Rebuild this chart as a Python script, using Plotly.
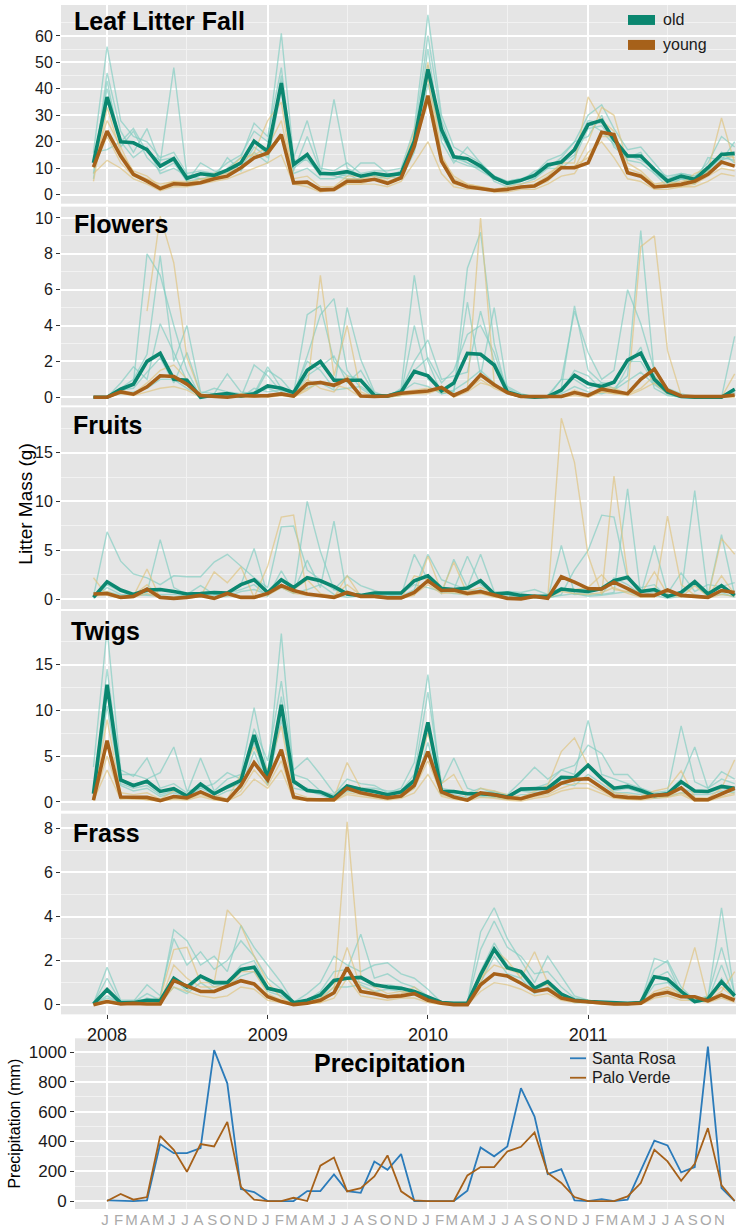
import plotly.graph_objects as go
import pandas as pd

W, H = 736, 1228

# ---------------- data ----------------
months = pd.date_range("2007-12-01", periods=49, freq="MS")
precip_months = pd.date_range("2008-01-01", periods=48, freq="MS")
month_letters = ["J", "F", "M", "A", "M", "J", "J", "A", "S", "O", "N", "D"] * 4
year_ticks = ["2008-01-01", "2009-01-01", "2010-01-01", "2011-01-01"]
year_labels = ["2008", "2009", "2010", "2011"]
mid_year = ["2008-07-01", "2009-07-01", "2010-07-01", "2011-07-01"]

panel_titles = ["Leaf Litter Fall", "Flowers", "Fruits", "Twigs", "Frass"]

# Leaf litter fall
leaf_old_mean = [12, 36.9, 20, 19.6, 17, 10.8, 13.6, 6.2, 7.9, 7.3, 9.3, 12, 20.2, 16.4, 42.2, 11.4, 15.2, 8, 7.9, 8.7, 7,
                 8, 7.3, 8, 20.2, 47.4, 24.6, 14.3, 13.6, 10.8, 6.4, 4.3, 5.4, 7.3, 11.2, 12.3, 17, 26.5, 28.1, 20.8, 14.6,
                 14.6, 9.5, 5.1, 7, 5.8, 10.2, 15.2, 15.6]
leaf_young_mean = [10.4, 24, 14.6, 7.7, 5.1, 2.3, 4.1, 3.9, 4.5, 6, 7, 10.2, 13.9, 15.8, 22.7, 4.5, 4.8, 1.8, 2, 5.1, 5.1,
                   5.8, 4.3, 6.4, 18.3, 37.4, 12.7, 4.9, 3, 2.3, 1.6, 2, 2.9, 3.3, 6, 10.2, 10.2, 12, 23.6, 22.7, 8.3, 7,
                   2.9, 3.3, 3.9, 5.1, 7.7, 12.3, 10.8]
leaf_old_sites = [
    [16, 56, 28, 22, 20, 14, 16, 8, 9, 8, 12, 15, 24, 20, 61, 14, 28, 10, 9, 12, 8, 9, 9, 10, 25, 68, 30, 18, 15, 12, 7, 5, 6, 8, 13, 15, 20, 30, 34, 25, 17, 18, 12, 6, 8, 7, 12, 22, 18],
    [8, 46, 24, 16, 25, 12, 48, 7, 8, 6, 10, 14, 27, 22, 48, 10, 14, 7, 36, 10, 7, 7, 6, 9, 22, 60, 28, 15, 12, 10, 6, 4, 5, 7, 12, 11, 18, 28, 27, 22, 15, 13, 10, 4, 6, 5, 9, 14, 13],
    [6, 43, 18, 24, 14, 9, 12, 5, 12, 9, 8, 10, 18, 14, 45, 9, 22, 9, 8, 7, 12, 12, 8, 7, 18, 55, 20, 12, 18, 12, 5, 3, 5, 9, 10, 14, 20, 22, 30, 18, 14, 16, 8, 3, 6, 4, 14, 13, 20],
    [16, 17, 20, 25, 16, 13, 14, 5, 6, 6, 14, 9, 16, 12, 40, 8, 10, 6, 6, 8, 5, 6, 7, 6, 16, 42, 22, 14, 12, 9, 6, 4, 4, 6, 10, 10, 14, 25, 26, 20, 13, 12, 8, 5, 7, 6, 9, 16, 12],
    [12, 40, 20, 14, 18, 8, 10, 7, 6, 7, 7, 12, 20, 15, 43, 13, 13, 8, 7, 6, 6, 8, 7, 9, 20, 49, 24, 13, 11, 10, 7, 5, 6, 6, 11, 12, 15, 27, 24, 19, 14, 14, 9, 7, 8, 7, 8, 13, 15],
]
leaf_young_sites = [
    [5, 33, 16, 9, 7, 3, 5, 5, 5, 7, 8, 12, 16, 28, 35, 5, 5, 2, 2, 6, 6, 7, 5, 7, 20, 50, 15, 6, 4, 3, 2, 2, 3, 4, 7, 12, 12, 37, 28, 24, 10, 8, 4, 4, 5, 6, 9, 29, 12],
    [8, 13, 10, 6, 4, 1.5, 3, 3, 4, 5, 6, 8, 10, 12, 15, 4, 4, 1.5, 1.5, 4, 4, 4, 3, 5, 12, 20, 8, 3, 2, 2, 1, 1, 2, 2, 4, 7, 8, 16, 20, 14, 6, 5, 2, 2, 3, 3, 5, 8, 7],
    [12, 28, 18, 8, 6, 4, 5, 4, 5, 8, 9, 14, 15, 18, 28, 6, 7, 3, 3, 7, 7, 8, 6, 8, 24, 44, 14, 7, 4, 3, 2, 3, 4, 5, 8, 11, 10, 20, 33, 30, 12, 9, 4, 5, 4, 8, 10, 15, 14],
    [10, 22, 12, 7, 5, 2, 4, 4, 6, 6, 7, 10, 14, 15, 22, 4, 3, 1, 2, 4, 4, 6, 4, 6, 18, 35, 12, 4, 3, 2, 1.5, 2, 3, 3, 5, 10, 11, 14, 22, 22, 8, 7, 3, 3, 3, 4, 7, 10, 9],
]

# Flowers
flow_old_mean = [0, 0, 0.45, 0.73, 2, 2.45, 1, 0.95, 0, 0.13, 0.2, 0.07, 0.2, 0.63, 0.5, 0.26, 1.5, 2, 0.95, 0.95, 0.95,
                 0.1, 0.07, 0.3, 1.44, 1.2, 0.35, 0.8, 2.45, 2.4, 1.8, 0.3, 0.07, 0, 0.04, 0.4, 1.23, 0.76, 0.6, 0.84,
                 2.07, 2.46, 1, 0.3, 0.04, 0, 0, 0, 0.45]
flow_young_mean = [0, 0, 0.3, 0.17, 0.58, 1.2, 1.16, 0.73, 0.1, 0.04, 0, 0.1, 0.07, 0.09, 0.19, 0.07, 0.76, 0.82, 0.67, 1,
                   0.07, 0.04, 0.07, 0.22, 0.3, 0.35, 0.55, 0.1, 0.45, 1.25, 0.7, 0.26, 0.04, 0.04, 0.02, 0.04, 0.26, 0.1,
                   0.45, 0.35, 0.2, 1, 1.57, 0.4, 0.07, 0.04, 0.04, 0.04, 0.13]
flow_old_sites = [
    [0, 0, 0.3, 0.8, 8.0, 6.8, 4.0, 1.5, 0, 0.1, 0.2, 0, 0.1, 1.5, 1.0, 0.2, 4.6, 5.1, 2.0, 1.2, 1.0, 0.1, 0, 0.5, 6.8, 2.0, 0.2, 0.3, 7.2, 9.2, 3.0, 0.2, 0, 0, 0, 0.5, 5.1, 1.5, 0.8, 0.5, 1.2, 9.3, 1.2, 0.2, 0, 0, 0, 0, 0.5],
    [0, 0, 0.5, 1.0, 2.4, 7.9, 2.0, 4.0, 0.3, 0.2, 1.3, 0.3, 0.2, 1.7, 0.5, 0.1, 2.3, 4.6, 5.5, 1.5, 0.5, 0, 0.1, 0.2, 4.0, 1.0, 0.5, 0.3, 5.3, 1.2, 5.0, 0.5, 0.1, 0, 0.1, 1.0, 4.8, 2.5, 1.0, 1.5, 6.0, 4.1, 1.5, 0.5, 0.2, 0, 0, 0, 3.4],
    [0, 0, 0.8, 1.7, 1.0, 4.1, 2.5, 0.9, 0, 0, 0, 0, 1.8, 1.2, 0.3, 0.3, 2.0, 1.5, 0.5, 5.0, 2.1, 0.3, 0, 0.1, 1.5, 2.2, 0.8, 1.5, 3.5, 4.0, 2.5, 0.3, 0, 0, 0, 1.0, 1.0, 0.5, 0.8, 0.8, 2.0, 2.0, 0.8, 0.2, 0, 0, 0, 0, 0.3],
    [0, 0, 0.4, 0.5, 1.4, 2.2, 0.8, 2.5, 0.2, 0.5, 0.3, 0.2, 0.3, 0.5, 0.2, 0.1, 1.2, 1.7, 2.3, 0.8, 1.5, 0.2, 0.1, 0.4, 2.0, 3.2, 1.0, 1.2, 1.4, 4.8, 2.0, 0.6, 0.2, 0, 0, 0.3, 1.5, 1.2, 0.4, 0.3, 1.7, 2.8, 0.5, 0.1, 0, 0, 0, 0, 0.2],
    [0, 0, 0.2, 0.3, 0.5, 1.0, 1.0, 0.5, 0.1, 0.1, 0, 0, 0.5, 0.3, 0.4, 0.3, 0.5, 0.8, 0.4, 0.5, 0.6, 0.1, 0, 0.3, 0.8, 0.6, 0.2, 0.4, 0.9, 1.5, 0.8, 0.2, 0, 0, 0, 0.2, 0.6, 0.3, 0.2, 0.4, 0.9, 1.4, 0.7, 0.2, 0, 0, 0, 0, 0.1],
]
flow_young_sites = [
    [None, None, None, None, 4.8, 10.1, 7.5, 2.2, 0.2, 0, 0, 0.1, 0, 0.1, 0.1, 0, 0.5, 6.8, 1.2, 4.0, 0.3, 0, 0.1, 0.2, 0.2, 0.3, 0.6, 0.1, 0.5, 10.0, 0.8, 0.2, 0, 0, 0, 0, 0.2, 0.1, 0.3, 0.2, 0.2, 8.4, 9.0, 2.6, 0.1, 0, 0, 0, 1.3],
    [0, 0, 0.4, 0.2, 0.8, 1.5, 1.8, 1.0, 0, 0, 0, 0.2, 0.1, 0, 0.1, 0.1, 1.0, 0.5, 0.3, 1.2, 0.1, 0, 0.1, 0.3, 0.4, 0.5, 0.3, 0.2, 0.4, 1.0, 0.5, 0.2, 0, 0, 0, 0, 0.4, 0.1, 0.6, 0.5, 0.2, 0.5, 1.2, 0.3, 0.1, 0, 0, 0, 0.1],
    [0, 0, 0.2, 0.1, 0.3, 0.5, 0.6, 0.4, 0, 0, 0, 0, 0, 0.1, 0.2, 0, 0.4, 0.9, 0.7, 0.5, 0, 0, 0, 0.1, 0.2, 0.2, 0.5, 0, 0.3, 0.8, 0.6, 0.3, 0, 0, 0, 0, 0.1, 0, 0.3, 0.2, 0.1, 0.4, 0.8, 0.2, 0, 0, 0, 0, 0],
]

# Fruits
fruit_old_mean = [0.2, 1.8, 0.95, 0.5, 0.95, 1, 0.8, 0.55, 0.6, 0.7, 0.65, 1.5, 2, 0.7, 2, 1.2, 2.2, 1.9, 1.3, 0.55, 0.4,
                  0.65, 0.65, 0.65, 1.9, 2.4, 1.1, 1.0, 1.15, 1.9, 0.55, 0.65, 0.4, 0.3, 0.3, 1.05, 0.9, 0.8, 1.1, 1.9,
                  2.25, 0.8, 1.0, 0.3, 0.7, 1.8, 0.55, 1.4, 0.4]
fruit_young_mean = [0.55, 0.6, 0.2, 0.3, 1.05, 0.2, 0.1, 0.2, 0.4, 0.1, 0.6, 0.2, 0.2, 0.6, 1.4, 0.9, 0.55, 0.4, 0.2, 0.7,
                    0.3, 0.3, 0.15, 0.15, 0.7, 1.9, 0.9, 0.95, 0.6, 0.8, 0.4, 0.1, 0.05, 0.3, 0.1, 2.3, 1.75, 1.1, 1.05,
                    1.75, 1.1, 0.4, 0.4, 0.95, 0.4, 0.3, 0.2, 0.9, 0.7]
fruit_old_sites = [
    [0.3, 6.9, 3.9, 2.6, 2.2, 1.5, 2.4, 2.3, 2.3, 3.8, 4.6, 3.4, 2.2, 1.2, 7.4, 7.5, 3.0, 2.0, 1.0, 0.5, 0.3, 0.2, 0.4, 0.3, 1.0, 4.6, 2.0, 1.5, 1.0, 0.8, 0.4, 0.3, 0.5, 0.2, 0.1, 0.5, 3.0, 5.0, 8.6, 8.4, 2.0, 1.2, 1.5, 0.2, 0.5, 1.5, 0.3, 0.5, 0.3],
    [0.1, 1.5, 0.8, 0.4, 0.7, 6.1, 1.2, 0.5, 1.4, 0.5, 0.4, 1.5, 5.2, 0.4, 1.5, 0.7, 10.0, 4.9, 1.0, 2.4, 1.4, 0.9, 0.5, 0.4, 4.6, 2.0, 0.6, 4.1, 1.2, 4.6, 0.8, 0.7, 0.2, 0.4, 0.1, 5.5, 0.6, 0.4, 0.5, 0.7, 11.3, 0.4, 0.8, 0.2, 0.6, 11.1, 0.3, 6.6, 0.4],
    [0.2, 1.2, 0.5, 0.3, 0.5, 0.5, 0.5, 0.3, 0.2, 0.4, 0.6, 1.0, 1.5, 0.3, 2.9, 0.8, 4.0, 1.2, 8.0, 0.4, 0.3, 0.4, 0.6, 0.5, 2.0, 2.5, 1.3, 1.0, 4.4, 1.5, 0.5, 0.8, 0.7, 1.0, 0.5, 1.2, 0.5, 0.6, 0.5, 2.2, 1.5, 0.5, 5.5, 0.6, 2.7, 0.8, 1.5, 1.3, 1.7],
    [0.5, 0.8, 0.4, 0.6, 0.4, 0.3, 0.2, 0.4, 0.4, 0.2, 0.3, 0.8, 1.0, 0.5, 1.2, 0.6, 1.0, 1.5, 0.5, 0.2, 0.4, 0.6, 0.3, 0.6, 1.5, 1.2, 0.8, 0.6, 0.5, 1.0, 0.3, 0.4, 0.2, 0.3, 0.2, 0.4, 0.6, 0.3, 0.4, 0.6, 0.8, 0.3, 0.4, 0.1, 0.3, 0.5, 0.2, 0.7, 0.2],
]
fruit_young_sites = [
    [2.2, 0.4, 0.1, 0.3, 3.1, 0.1, 0.1, 0.2, 0.3, 2.8, 1.7, 3.3, 0.2, 3.4, 8.4, 8.6, 0.5, 0.3, 0.2, 2.4, 0.3, 0.2, 0.1, 0.1, 0.4, 4.4, 0.8, 3.8, 0.5, 0.6, 0.2, 0.1, 0.1, 0.2, 0.1, 18.5, 14.0, 4.5, 0.5, 12.6, 2.5, 0.3, 0.2, 8.5, 1.5, 0.4, 0.2, 6.2, 4.6],
    [0.5, 0.8, 0.2, 0.4, 1.5, 0.3, 0.1, 0.4, 0.5, 0.2, 0.6, 0.3, 0.3, 0.5, 2.0, 1.0, 2.0, 0.6, 0.3, 1.5, 0.4, 0.4, 0.2, 0.1, 2.4, 2.0, 1.2, 1.0, 0.8, 1.2, 0.6, 0.1, 0.1, 0.4, 0.1, 1.0, 1.0, 1.2, 2.5, 1.0, 0.8, 0.5, 2.8, 0.5, 0.2, 1.4, 0.3, 2.4, 0.5],
    [0.3, 0.5, 0.1, 0.2, 0.6, 0.1, 0.1, 0.1, 0.3, 0.1, 0.4, 0.1, 0.1, 0.4, 1.2, 0.6, 0.4, 0.3, 0.1, 0.6, 0.2, 0.2, 0.1, 0.1, 0.5, 1.5, 0.6, 0.7, 0.4, 0.6, 0.3, 0.1, 0, 0.2, 0.1, 0.8, 0.6, 0.5, 0.7, 1.2, 0.6, 0.2, 0.3, 0.8, 0.3, 0.2, 0.1, 0.5, 0.3],
]

# Twigs
twig_old_mean = [0.9, 12.8, 2.4, 1.8, 2.25, 1.15, 1.45, 0.65, 1.95, 0.9, 1.65, 2.35, 7.3, 2.55, 10.6, 2.25, 1.25, 1.1,
                 0.45, 1.75, 1.4, 1.15, 0.8, 1.1, 2.35, 8.7, 1.15, 1.15, 0.9, 0.9, 0.8, 0.55, 1.4, 1.45, 1.5, 2.7, 2.65,
                 4, 2.55, 1.5, 1.7, 1.25, 0.7, 0.9, 2.2, 1.2, 1.15, 1.7, 1.5]
twig_young_mean = [0.2, 6.7, 0.55, 0.5, 0.5, 0.15, 0.6, 0.45, 1.1, 0.45, 0.15, 1.8, 4.3, 2.4, 5.7, 0.55, 0.25, 0.25, 0.25,
                   1.5, 1.0, 0.7, 0.45, 0.65, 1.8, 5.5, 1.1, 0.55, 0.2, 1.0, 0.8, 0.5, 0.35, 0.8, 1.15, 2.05, 2.45, 2.55,
                   1.5, 0.65, 0.5, 0.45, 0.7, 0.8, 1.55, 0.25, 0.25, 0.9, 1.5]
twig_old_sites = [
    [3.8, 18.9, 3.5, 2.8, 4.8, 1.5, 2.0, 1.0, 4.8, 1.2, 2.5, 3.0, 10.3, 3.0, 18.4, 3.0, 2.5, 1.2, 0.8, 2.5, 2.0, 1.8, 1.0, 1.5, 4.3, 13.9, 1.5, 1.2, 1.0, 1.5, 1.0, 0.8, 2.2, 3.8, 2.5, 3.5, 3.0, 8.9, 3.0, 2.5, 2.0, 1.5, 1.0, 1.2, 8.3, 2.2, 1.5, 2.5, 2.0],
    [1.0, 14.5, 3.0, 3.0, 2.5, 3.2, 6.0, 1.2, 1.5, 2.0, 3.2, 2.5, 8.0, 4.5, 13.2, 3.5, 4.8, 3.0, 1.0, 1.8, 1.5, 1.5, 1.2, 1.2, 3.0, 12.0, 2.0, 4.8, 1.5, 1.0, 1.2, 0.6, 1.5, 1.5, 2.0, 3.5, 4.0, 6.2, 5.3, 3.0, 3.0, 1.5, 0.8, 1.0, 2.5, 6.0, 1.5, 3.3, 2.5],
    [0.5, 12.0, 2.0, 1.5, 1.8, 0.8, 1.2, 0.5, 1.5, 0.8, 1.5, 2.0, 6.5, 2.0, 11.5, 2.0, 1.5, 1.0, 0.3, 1.5, 1.2, 1.2, 0.8, 1.0, 2.0, 8.0, 1.0, 1.0, 0.8, 0.8, 0.6, 0.4, 1.2, 1.0, 1.2, 2.5, 2.2, 4.0, 2.5, 1.2, 1.5, 1.0, 0.6, 0.8, 1.5, 1.0, 1.0, 1.5, 1.2],
    [0.3, 10.5, 1.8, 1.2, 1.5, 0.6, 1.0, 0.4, 1.2, 0.5, 1.2, 1.5, 5.5, 1.8, 9.0, 1.5, 1.2, 0.8, 0.2, 1.2, 1.0, 1.0, 0.6, 0.8, 1.5, 6.5, 0.8, 0.8, 0.5, 0.6, 0.5, 0.3, 0.8, 0.8, 1.0, 2.0, 1.8, 3.0, 2.0, 1.0, 1.0, 0.8, 0.4, 0.6, 1.0, 0.8, 0.8, 1.2, 1.0],
]
twig_young_sites = [
    [0.3, 9.0, 1.0, 0.8, 1.0, 0.3, 1.2, 0.8, 2.0, 0.8, 0.3, 3.0, 6.0, 3.5, 8.3, 1.0, 0.5, 0.3, 0.5, 4.3, 1.5, 1.2, 0.8, 1.0, 2.5, 7.5, 2.0, 3.0, 0.3, 1.5, 1.2, 0.8, 0.5, 1.2, 1.8, 5.5, 7.0, 4.0, 2.5, 1.0, 0.8, 0.6, 1.2, 1.5, 3.4, 0.5, 0.4, 1.5, 4.6],
    [0.1, 5.0, 0.4, 0.3, 0.3, 0.1, 0.4, 0.3, 0.8, 0.3, 0.1, 1.2, 3.5, 1.8, 4.5, 0.4, 0.2, 0.2, 0.1, 1.0, 0.8, 0.5, 0.3, 0.5, 1.5, 4.5, 0.8, 0.4, 0.1, 0.8, 0.6, 0.3, 0.2, 0.6, 0.8, 1.5, 2.0, 2.0, 1.2, 0.5, 0.3, 0.3, 0.5, 0.6, 1.0, 0.2, 0.2, 0.6, 1.0],
    [0.2, 3.5, 0.3, 0.5, 0.2, 0.1, 0.3, 0.2, 0.6, 0.2, 0.1, 0.8, 2.5, 1.5, 3.5, 0.3, 0.2, 0.1, 0.1, 0.8, 0.6, 0.4, 0.2, 0.4, 1.0, 3.0, 0.6, 0.3, 0.1, 0.5, 0.4, 0.2, 0.1, 0.4, 0.6, 1.2, 1.5, 1.5, 0.9, 0.4, 0.3, 0.2, 0.4, 0.5, 0.8, 0.1, 0.1, 0.5, 0.8],
]

# Frass
frass_old_mean = [0.03, 0.68, 0.08, 0.09, 0.2, 0.18, 1.2, 0.8, 1.3, 1.0, 1.0, 1.6, 1.7, 0.74, 0.6, 0.09, 0.2, 0.44, 1.1,
                  1.2, 1.24, 0.9, 0.8, 0.74, 0.6, 0.36, 0.1, 0.06, 0.06, 1.35, 2.52, 1.68, 1.5, 0.74, 1.04, 0.48, 0.2,
                  0.14, 0.1, 0.06, 0.06, 0.1, 1.27, 1.16, 0.6, 0.14, 0.26, 1.04, 0.4]
frass_young_mean = [0, 0.14, 0.03, 0.06, 0.03, 0.03, 1.09, 0.85, 0.6, 0.6, 0.85, 1.09, 0.94, 0.36, 0.14, 0, 0.06, 0.2,
                    0.54, 1.68, 0.6, 0.5, 0.36, 0.4, 0.5, 0.2, 0.06, 0, 0, 0.9, 1.4, 1.3, 0.97, 0.6, 0.7, 0.3, 0.18,
                    0.14, 0.06, 0.03, 0.03, 0.06, 0.44, 0.56, 0.36, 0.36, 0.17, 0.44, 0.2]
frass_old_sites = [
    [0.05, 1.7, 0.2, 0.2, 0.2, 0.3, 3.4, 2.9, 1.8, 2.2, 1.5, 3.6, 2.6, 1.8, 1.0, 0.1, 0.5, 1.0, 2.2, 1.8, 1.5, 1.8, 1.9, 1.4, 1.2, 0.7, 0.1, 0.05, 0.1, 3.3, 4.4, 3.0, 2.0, 1.0, 2.2, 1.3, 0.4, 0.2, 0.1, 0.05, 0.05, 0.1, 2.1, 1.9, 0.5, 0.2, 0.3, 4.4, 0.4],
    [0.05, 1.2, 0.1, 0.15, 0.9, 0.4, 3.0, 1.8, 2.4, 1.6, 2.0, 2.9, 2.2, 1.2, 0.7, 0.05, 0.2, 0.6, 1.5, 1.6, 3.2, 1.2, 1.4, 1.0, 0.8, 0.4, 0.1, 0.05, 0.05, 2.5, 3.8, 2.6, 2.2, 1.4, 1.5, 0.8, 0.3, 0.2, 0.1, 0.05, 0.05, 0.1, 1.6, 2.0, 0.8, 0.2, 0.4, 2.6, 0.5],
    [0.0, 0.4, 0.05, 0.1, 0.5, 0.2, 1.2, 0.6, 1.3, 0.8, 1.0, 1.8, 2.0, 0.8, 0.5, 0.05, 0.1, 0.3, 1.0, 1.2, 1.0, 0.8, 0.9, 0.8, 0.6, 0.3, 0.05, 0.05, 0.05, 1.5, 2.8, 1.8, 1.4, 0.6, 1.0, 0.5, 0.2, 0.1, 0.1, 0.05, 0.05, 0.1, 1.2, 1.5, 0.6, 0.1, 0.2, 1.8, 0.3],
    [0.0, 0.3, 0.05, 0.05, 0.3, 0.1, 0.8, 0.5, 1.0, 0.6, 0.8, 1.3, 1.5, 0.6, 0.4, 0.05, 0.1, 0.2, 0.8, 0.8, 0.9, 0.6, 0.7, 0.6, 0.5, 0.2, 0.05, 0.05, 0.05, 1.0, 2.2, 1.4, 1.2, 0.5, 0.8, 0.4, 0.1, 0.1, 0.05, 0.05, 0.05, 0.05, 0.9, 1.0, 0.4, 0.1, 0.2, 1.2, 0.3],
]
frass_young_sites = [
    [0.0, 0.1, 0.05, 0.05, 0.05, 0.3, 2.5, 2.6, 1.0, 1.0, 4.3, 3.6, 2.2, 1.0, 0.3, 0.0, 0.05, 0.1, 0.6, 8.3, 1.3, 0.8, 0.5, 0.6, 0.5, 0.2, 0.05, 0, 0, 1.0, 2.5, 2.0, 1.2, 2.4, 1.0, 0.5, 0.2, 0.1, 0.05, 0, 0, 0.05, 0.6, 0.8, 0.5, 2.6, 0.2, 0.6, 1.5],
    [0.0, 0.2, 0.05, 0.1, 0.05, 0.1, 1.8, 1.2, 0.8, 0.8, 0.8, 1.5, 1.5, 0.5, 0.2, 0, 0.1, 0.3, 0.8, 2.6, 0.8, 0.6, 0.4, 0.5, 0.8, 0.3, 0.05, 0, 0, 1.2, 1.8, 1.6, 1.4, 0.8, 0.9, 0.4, 0.2, 0.2, 0.1, 0, 0, 0.1, 0.5, 0.7, 0.4, 0.3, 0.3, 0.8, 0.3],
    [0.0, 0.1, 0.0, 0.05, 0.05, 0.05, 0.8, 0.6, 0.4, 0.3, 0.4, 0.8, 0.7, 0.2, 0.1, 0, 0.05, 0.1, 0.3, 1.2, 0.4, 0.3, 0.2, 0.3, 0.3, 0.1, 0, 0, 0, 0.6, 1.0, 0.9, 0.7, 0.4, 0.5, 0.2, 0.1, 0.1, 0, 0, 0, 0, 0.3, 0.4, 0.2, 0.2, 0.1, 0.3, 0.1],
]

# Precipitation (mm), Jan 2008 - Dec 2011
santa_rosa = [5, 0, 0, 5, 382, 321, 321, 355, 1013, 790, 80, 60,
              0, 0, 0, 67, 67, 178, 67, 55, 265, 210, 315, 0,
              0, 0, 0, 70, 360, 300, 366, 757, 567, 181, 214, 5,
              0, 13, 0, 9, 210, 406, 373, 192, 228, 1036, 87, 0]
palo_verde = [0, 47, 9, 27, 437, 344, 196, 382, 366, 531, 95, 9,
              0, 0, 22, 0, 237, 292, 65, 87, 165, 306, 65, 5,
              0, 0, 0, 172, 228, 228, 333, 364, 460, 188, 121, 27,
              0, 0, 0, 31, 121, 344, 266, 136, 250, 489, 105, 0]

panels = [
    (leaf_old_sites, leaf_young_sites, leaf_old_mean, leaf_young_mean),
    (flow_old_sites, flow_young_sites, flow_old_mean, flow_young_mean),
    (fruit_old_sites, fruit_young_sites, fruit_old_mean, fruit_young_mean),
    (twig_old_sites, twig_young_sites, twig_old_mean, twig_young_mean),
    (frass_old_sites, frass_young_sites, frass_old_mean, frass_young_mean),
]

# ---------------- style / layout ----------------
FONT = "Liberation Sans, Arial, Helvetica, sans-serif"
BG = "#e5e5e5"
OLD = "#0b8770"
YOUNG = "#a6611a"
OLD_LIGHT = "rgba(128,205,193,0.66)"
YOUNG_LIGHT = "rgba(223,194,125,0.66)"
SR_BLUE = "#2b7bba"
PV_BROWN = "#a6611a"

def py(y):
    return 1 - y / H

def px(x):
    return x / W

panel_px = [(5, 204), (207, 406), (408, 610), (612, 812), (815, 1016)]
yranges = [[-3.4, 71.7], [-0.45, 10.63], [-0.99, 19.62], [-0.95, 20.85], [-0.44, 8.67]]
ytickvals = [[0, 10, 20, 30, 40, 50, 60], [0, 2, 4, 6, 8, 10], [0, 5, 10, 15], [0, 5, 10, 15], [0, 2, 4, 6, 8]]
yminor = [[5, 15, 25, 35, 45, 55, 65], [1, 3, 5, 7, 9], [2.5, 7.5, 12.5, 17.5], [2.5, 7.5, 12.5, 17.5], [1, 3, 5, 7]]
title_pos = [(72, 21.5), (72, 224), (71, 426), (69, 632), (71, 834)]

top_xrange = ["2007-09-18", "2011-12-04"]
pr_xrange = ["2007-10-20", "2011-12-04"]

fig = go.Figure()
layout = dict(
    width=W, height=H,
    margin=dict(l=0, r=0, t=0, b=0),
    paper_bgcolor="white",
    plot_bgcolor=BG,
    showlegend=False,
    font=dict(family=FONT, color="#1a1a1a"),
)

annotations = []
shapes = []

for k, (osites, ysites, omean, ymean) in enumerate(panels):
    n = k + 1
    xa = "x" if n == 1 else f"x{n}"
    ya = "y" if n == 1 else f"y{n}"
    for s in osites:
        fig.add_trace(go.Scatter(x=months, y=s, mode="lines", xaxis=xa, yaxis=ya,
                                 line=dict(color=OLD_LIGHT, width=1.4), hoverinfo="skip"))
    for s in ysites:
        fig.add_trace(go.Scatter(x=months, y=s, mode="lines", xaxis=xa, yaxis=ya,
                                 line=dict(color=YOUNG_LIGHT, width=1.4), hoverinfo="skip"))
    fig.add_trace(go.Scatter(x=months, y=omean, mode="lines", xaxis=xa, yaxis=ya, name="old",
                             line=dict(color=OLD, width=3.6)))
    fig.add_trace(go.Scatter(x=months, y=ymean, mode="lines", xaxis=xa, yaxis=ya, name="young",
                             line=dict(color=YOUNG, width=3.6)))

    top, bot = panel_px[k]
    last = (n == 5)
    layout["xaxis" if n == 1 else f"xaxis{n}"] = dict(
        domain=[px(61), 1], anchor=ya, type="date", range=top_xrange,
        tickmode="array", tickvals=year_ticks, ticktext=year_labels,
        showticklabels=last, ticks="outside" if last else "", ticklen=4, tickcolor="#333333",
        tickfont=dict(size=18, color="#1a1a1a"),
        showgrid=True, gridcolor="white", gridwidth=2, zeroline=False, showline=False,
        minor=dict(tickmode="array", tickvals=mid_year, showgrid=True, gridcolor="#f2f2f2", gridwidth=1),
    )
    layout["yaxis" if n == 1 else f"yaxis{n}"] = dict(
        domain=[py(bot), py(top)], anchor=xa, range=yranges[k],
        tickmode="array", tickvals=ytickvals[k],
        ticks="outside", ticklen=4, tickcolor="#333333",
        tickfont=dict(size=16, color="#1a1a1a"),
        showgrid=True, gridcolor="white", gridwidth=2, zeroline=False, showline=False,
        minor=dict(tickmode="array", tickvals=yminor[k], showgrid=True, gridcolor="#f2f2f2", gridwidth=1),
    )
    tx, ty = title_pos[k]
    annotations.append(dict(text=f"<b>{panel_titles[k]}</b>", xref="paper", yref="paper",
                            x=px(tx), y=py(ty), xanchor="left", yanchor="middle", showarrow=False,
                            font=dict(size=25, color="black", family=FONT)))

# Precipitation panel
fig.add_trace(go.Scatter(x=precip_months, y=santa_rosa, mode="lines", xaxis="x6", yaxis="y6",
                         name="Santa Rosa", line=dict(color=SR_BLUE, width=1.8)))
fig.add_trace(go.Scatter(x=precip_months, y=palo_verde, mode="lines", xaxis="x6", yaxis="y6",
                         name="Palo Verde", line=dict(color=PV_BROWN, width=1.8)))
# invisible trace so the overlay gridline axis is drawn
fig.add_trace(go.Scatter(x=precip_months, y=palo_verde, mode="lines", xaxis="x7", yaxis="y6",
                         line=dict(width=0, color="rgba(0,0,0,0)"), hoverinfo="skip"))

layout["xaxis6"] = dict(
    domain=[px(75), 1], anchor="y6", type="date", range=pr_xrange,
    tickmode="array", tickvals=list(precip_months), ticktext=month_letters,
    ticks="", showgrid=False, zeroline=False, showline=False,
    tickfont=dict(size=15, color="#aaaaaa"), tickangle=0, ticklabelshift=-2,
)
layout["xaxis7"] = dict(
    overlaying="x6", anchor="y6", type="date", range=pr_xrange,
    tickmode="array", tickvals=year_ticks, showticklabels=False, ticks="",
    showgrid=True, gridcolor="white", gridwidth=2, zeroline=False, showline=False,
    minor=dict(tickmode="array", tickvals=mid_year, showgrid=True, gridcolor="#f2f2f2", gridwidth=1),
)
layout["yaxis6"] = dict(
    domain=[py(1211), py(1040)], anchor="x6", range=[-53.6, 1092],
    tickmode="array", tickvals=[0, 200, 400, 600, 800, 1000],
    ticks="outside", ticklen=4, tickcolor="#333333",
    tickfont=dict(size=17, color="#1a1a1a"),
    showgrid=True, gridcolor="white", gridwidth=2, zeroline=False, showline=False,
    minor=dict(tickmode="array", tickvals=[100, 300, 500, 700, 900], showgrid=True, gridcolor="#f2f2f2", gridwidth=1),
    title=dict(text="Precipitation (mm)", font=dict(size=16, color="black"), standoff=4),
)

annotations.append(dict(text="<b>Precipitation</b>", xref="paper", yref="paper", x=px(389), y=py(1064.5),
                        xanchor="center", yanchor="middle", showarrow=False,
                        font=dict(size=25, color="black", family=FONT)))
annotations.append(dict(text="Litter Mass (g)", xref="paper", yref="paper", x=px(25.5), y=py(505),
                        xanchor="center", yanchor="middle", textangle=-90, showarrow=False,
                        font=dict(size=19, color="black", family=FONT)))

# legend for litter panels (filled keys)
for label, col, yc in [("old", OLD, 20), ("young", YOUNG, 45)]:
    shapes.append(dict(type="rect", xref="paper", yref="paper", x0=px(628), x1=px(655),
                       y0=py(yc + 5), y1=py(yc - 5), fillcolor=col, line=dict(width=0)))
    annotations.append(dict(text=label, xref="paper", yref="paper", x=px(661), y=py(yc),
                            xanchor="left", yanchor="middle", showarrow=False,
                            font=dict(size=16, color="#1a1a1a", family=FONT)))

# legend for precipitation
for label, col, yc in [("Santa Rosa", SR_BLUE, 1060), ("Palo Verde", PV_BROWN, 1079.5)]:
    shapes.append(dict(type="line", xref="paper", yref="paper", x0=px(570), x1=px(586),
                       y0=py(yc), y1=py(yc), line=dict(color=col, width=1.8)))
    annotations.append(dict(text=label, xref="paper", yref="paper", x=px(590), y=py(yc),
                            xanchor="left", yanchor="middle", showarrow=False,
                            font=dict(size=16, color="#1a1a1a", family=FONT)))

layout["annotations"] = annotations
layout["shapes"] = shapes
fig.update_layout(**layout)

fig.write_html("out.html")
